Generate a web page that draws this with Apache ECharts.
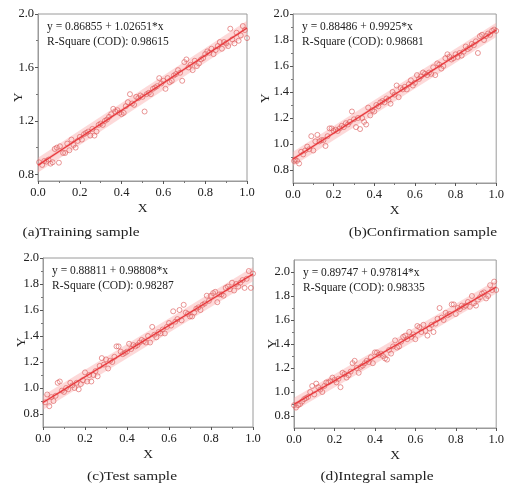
<!DOCTYPE html>
<html>
<head>
<meta charset="utf-8">
<script src="https://cdn.jsdelivr.net/npm/echarts@6/dist/echarts.min.js"></script>
<style>
  html, body { margin: 0; padding: 0; background: #ffffff; }
  #chart { width: 507px; height: 489px; }
</style>
</head>
<body>
<div id="chart"></div>
<script>
// ---- data -------------------------------------------------------------
const captions = ['(a)Training sample', '(b)Confirmation sample', '(c)Test sample', '(d)Integral sample'];
const intercepts = [0.86855, 0.88486, 0.88811, 0.89747];
const slopes = [1.02651, 0.9925, 0.98808, 0.97814];
const rSquares = ['0.98615', '0.98681', '0.98287', '0.98335'];

const yRanges = [[0.75, 2.0], [0.7, 2.0], [0.7, 2.0], [0.7, 2.1]];
const yLabelsWide = [0.8, 1.2, 1.6, 2.0];
const yMinorWide = [1.0, 1.4, 1.8];
const yLabelsFine = [0.8, 1.0, 1.2, 1.4, 1.6, 1.8, 2.0];
const yMinorFine = [0.9, 1.1, 1.3, 1.5, 1.7, 1.9];

// half-widths of the prediction and confidence bands
const predictionHalf = 0.055;
const confidenceHalf = 0.012;

const trainingPoints = [
  [0.005,0.89],[0.02,0.87],[0.03,0.90],[0.04,0.895],[0.05,0.91],[0.06,0.88],[0.07,0.89],[0.08,0.99],
  [0.09,1.00],[0.10,0.887],[0.105,1.01],[0.12,0.96],[0.13,0.96],[0.14,1.03],[0.15,0.98],[0.16,1.06],
  [0.17,1.02],[0.18,1.00],[0.19,1.05],[0.20,1.08],[0.21,1.06],[0.22,1.10],[0.23,1.11],[0.24,1.12],
  [0.25,1.09],[0.26,1.14],[0.27,1.09],[0.28,1.12],[0.29,1.17],[0.30,1.18],[0.31,1.17],[0.32,1.20],
  [0.33,1.21],[0.34,1.23],[0.35,1.25],[0.36,1.29],[0.37,1.27],[0.38,1.28],[0.39,1.26],[0.40,1.25],
  [0.41,1.26],[0.42,1.31],[0.43,1.34],[0.44,1.40],[0.45,1.33],[0.46,1.32],[0.47,1.38],[0.48,1.37],
  [0.49,1.39],[0.50,1.38],[0.51,1.27],[0.52,1.40],[0.53,1.41],[0.54,1.40],[0.55,1.44],[0.56,1.45],
  [0.57,1.46],[0.58,1.52],[0.59,1.48],[0.60,1.50],[0.61,1.44],[0.62,1.52],[0.63,1.49],[0.64,1.50],
  [0.65,1.54],[0.66,1.55],[0.67,1.58],[0.68,1.56],[0.69,1.50],[0.70,1.64],[0.71,1.66],[0.72,1.60],
  [0.73,1.62],[0.74,1.58],[0.75,1.65],[0.76,1.61],[0.77,1.63],[0.78,1.66],[0.79,1.67],[0.80,1.70],
  [0.81,1.72],[0.82,1.71],[0.83,1.74],[0.84,1.70],[0.85,1.73],[0.86,1.76],[0.87,1.79],[0.88,1.74],
  [0.89,1.79],[0.90,1.78],[0.91,1.76],[0.92,1.89],[0.93,1.81],[0.94,1.78],[0.95,1.86],[0.96,1.80],
  [0.97,1.84],[0.98,1.91],[0.99,1.88],[1.00,1.82]
];

const confirmationPoints = [
  [0.005,0.87],[0.01,0.88],[0.02,0.87],[0.03,0.85],[0.04,0.94],[0.05,0.92],[0.06,0.95],[0.07,0.98],
  [0.08,0.96],[0.09,1.06],[0.10,0.95],[0.11,1.02],[0.12,1.07],[0.13,1.02],[0.14,1.03],[0.15,1.03],
  [0.16,0.985],[0.17,1.06],[0.18,1.12],[0.19,1.12],[0.20,1.10],[0.21,1.11],[0.22,1.10],[0.23,1.12],
  [0.24,1.14],[0.25,1.13],[0.26,1.16],[0.27,1.15],[0.28,1.17],[0.29,1.25],[0.30,1.19],[0.31,1.13],
  [0.32,1.20],[0.33,1.115],[0.34,1.20],[0.35,1.17],[0.36,1.15],[0.37,1.28],[0.38,1.22],[0.39,1.26],
  [0.40,1.25],[0.41,1.30],[0.42,1.29],[0.43,1.32],[0.44,1.33],[0.45,1.32],[0.46,1.35],[0.47,1.34],
  [0.48,1.31],[0.49,1.40],[0.50,1.38],[0.51,1.45],[0.52,1.36],[0.53,1.43],[0.54,1.42],[0.55,1.44],
  [0.56,1.42],[0.57,1.46],[0.58,1.49],[0.59,1.45],[0.60,1.47],[0.61,1.53],[0.62,1.50],[0.63,1.52],
  [0.64,1.55],[0.65,1.54],[0.66,1.53],[0.67,1.55],[0.68,1.54],[0.69,1.59],[0.70,1.53],[0.71,1.62],
  [0.72,1.61],[0.73,1.58],[0.74,1.60],[0.75,1.66],[0.76,1.69],[0.77,1.67],[0.78,1.65],[0.79,1.66],
  [0.80,1.69],[0.81,1.67],[0.82,1.70],[0.83,1.68],[0.84,1.71],[0.85,1.75],[0.86,1.73],[0.87,1.74],
  [0.88,1.77],[0.89,1.76],[0.90,1.79],[0.91,1.70],[0.92,1.83],[0.93,1.84],[0.94,1.80],[0.95,1.83],
  [0.96,1.85],[0.97,1.84],[0.98,1.87],[0.99,1.88],[1.00,1.87]
];

const testPoints = [
  [0.01,0.89],[0.02,0.95],[0.03,0.86],[0.04,0.93],[0.05,0.90],[0.06,0.94],[0.07,1.04],[0.08,1.05],
  [0.09,0.98],[0.10,0.97],[0.11,1.00],[0.12,0.99],[0.13,1.04],[0.14,1.02],[0.15,1.00],[0.16,1.04],
  [0.17,0.99],[0.18,1.03],[0.19,1.06],[0.20,1.12],[0.21,1.05],[0.22,1.10],[0.23,1.05],[0.24,1.10],
  [0.25,1.13],[0.26,1.09],[0.27,1.17],[0.28,1.23],[0.29,1.18],[0.30,1.22],[0.31,1.15],[0.32,1.21],
  [0.33,1.20],[0.34,1.24],[0.35,1.32],[0.36,1.32],[0.37,1.28],[0.38,1.26],[0.39,1.27],[0.40,1.28],
  [0.41,1.34],[0.42,1.30],[0.43,1.33],[0.44,1.32],[0.45,1.33],[0.46,1.35],[0.47,1.37],[0.48,1.36],
  [0.49,1.35],[0.50,1.40],[0.51,1.35],[0.52,1.47],[0.53,1.41],[0.54,1.39],[0.55,1.43],[0.56,1.42],
  [0.57,1.45],[0.58,1.42],[0.59,1.47],[0.60,1.50],[0.61,1.48],[0.62,1.59],[0.63,1.51],[0.64,1.53],
  [0.65,1.60],[0.66,1.52],[0.67,1.64],[0.68,1.58],[0.69,1.57],[0.70,1.55],[0.71,1.55],[0.72,1.58],
  [0.73,1.61],[0.74,1.62],[0.75,1.60],[0.76,1.64],[0.77,1.65],[0.78,1.71],[0.79,1.67],[0.80,1.71],
  [0.81,1.73],[0.82,1.74],[0.83,1.66],[0.84,1.72],[0.85,1.72],[0.86,1.71],[0.87,1.77],[0.88,1.78],
  [0.89,1.76],[0.90,1.81],[0.91,1.75],[0.92,1.80],[0.93,1.78],[0.94,1.81],[0.95,1.83],[0.96,1.77],
  [0.97,1.84],[0.98,1.90],[0.99,1.77],[1.00,1.88]
];

const integralPoints = [
  [0.00,0.89],[0.01,0.87],[0.02,0.89],[0.03,0.90],[0.04,0.92],[0.05,0.94],[0.06,0.95],[0.07,0.96],
  [0.08,1.00],[0.09,1.05],[0.10,0.98],[0.11,1.07],[0.12,1.04],[0.13,1.02],[0.14,1.00],[0.15,1.05],
  [0.16,1.08],[0.17,1.08],[0.18,1.09],[0.19,1.12],[0.20,1.10],[0.21,1.08],[0.22,1.11],[0.23,1.04],
  [0.24,1.16],[0.25,1.15],[0.26,1.12],[0.27,1.14],[0.28,1.17],[0.29,1.24],[0.30,1.26],[0.31,1.20],
  [0.32,1.16],[0.33,1.21],[0.34,1.22],[0.35,1.24],[0.36,1.26],[0.37,1.25],[0.38,1.29],[0.39,1.24],
  [0.40,1.33],[0.41,1.33],[0.42,1.31],[0.43,1.32],[0.44,1.30],[0.45,1.28],[0.46,1.27],[0.47,1.35],
  [0.48,1.32],[0.49,1.38],[0.50,1.43],[0.51,1.37],[0.52,1.38],[0.53,1.42],[0.54,1.46],[0.55,1.47],
  [0.56,1.44],[0.57,1.50],[0.58,1.46],[0.59,1.48],[0.60,1.44],[0.61,1.55],[0.62,1.54],[0.63,1.50],
  [0.64,1.56],[0.65,1.51],[0.66,1.47],[0.67,1.53],[0.68,1.56],[0.69,1.50],[0.70,1.57],[0.71,1.61],
  [0.72,1.70],[0.73,1.62],[0.74,1.60],[0.75,1.66],[0.76,1.64],[0.77,1.65],[0.78,1.73],[0.79,1.73],
  [0.80,1.65],[0.81,1.70],[0.82,1.69],[0.83,1.72],[0.84,1.71],[0.85,1.72],[0.86,1.75],[0.87,1.71],
  [0.88,1.80],[0.89,1.74],[0.90,1.72],[0.91,1.77],[0.92,1.79],[0.93,1.82],[0.94,1.83],[0.95,1.78],
  [0.96,1.80],[0.97,1.89],[0.98,1.85],[0.99,1.92],[1.00,1.85]
];

const pointSets = [trainingPoints, confirmationPoints, testPoints, integralPoints];

// ---- layout & style ---------------------------------------------------
const FONT = "'Liberation Serif', 'Times New Roman', serif";
const grids = [
  { left: 38, top: 14, width: 209, height: 167 },
  { left: 293, top: 14, width: 209, height: 169 },
  { left: 43, top: 258, width: 210, height: 169 },
  { left: 294, top: 260, width: 208, height: 168 }
];
const captionPos = [[81, 232], [423, 232], [132, 476], [377, 476]];
const yNameGaps = [13, 21, 15, 15];
const AXIS_GREY = '#9a9a9a';
const LINE_RED = '#e8363a';
const POINT_RED = '#dc5a5a';

const chart = echarts.init(document.getElementById('chart'), null, { renderer: 'canvas' });

const xAxes = [], yAxes = [], series = [], graphics = [];

grids.forEach((g, i) => {
  const [ymin, ymax] = yRanges[i];
  const labels = i === 0 ? yLabelsWide : yLabelsFine;
  const minors = i === 0 ? yMinorWide : yMinorFine;
  const b = intercepts[i], m = slopes[i];

  xAxes.push({
    type: 'value', gridIndex: i, min: 0, max: 1, interval: 0.2,
    name: 'X', nameLocation: 'middle', nameGap: 20,
    nameTextStyle: { fontFamily: FONT, fontSize: 13.5, color: '#222' },
    axisLine: { show: true, lineStyle: { color: AXIS_GREY, width: 1 } },
    axisTick: { show: true, inside: false, length: 3, lineStyle: { color: '#555' } },
    minorTick: { show: true, splitNumber: 2, length: 2, lineStyle: { color: '#777' } },
    splitLine: { show: false },
    axisLabel: {
      fontFamily: FONT, fontSize: 12.5, color: '#222', margin: 5,
      formatter: v => v.toFixed(1), showMinLabel: true, showMaxLabel: true
    }
  });
  // labelled ticks
  yAxes.push({
    type: 'value', gridIndex: i, min: ymin, max: ymax,
    name: 'Y', nameLocation: 'middle', nameGap: yNameGaps[i], nameRotate: 90,
    nameMoveOverlap: false,
    nameTextStyle: { fontFamily: FONT, fontSize: 13.5, color: '#222' },
    axisLine: { show: true, lineStyle: { color: AXIS_GREY, width: 1 } },
    axisTick: { show: true, length: 3, customValues: labels, lineStyle: { color: '#555' } },
    splitLine: { show: false },
    axisLabel: {
      fontFamily: FONT, fontSize: 12.5, color: '#222', margin: 4,
      customValues: labels, formatter: v => v.toFixed(1)
    }
  });
  // minor ticks between labelled values
  yAxes.push({
    type: 'value', gridIndex: i, min: ymin, max: ymax, position: 'left',
    axisLine: { show: false },
    axisTick: { show: true, length: 2, customValues: minors, lineStyle: { color: '#777' } },
    axisLabel: { show: false },
    splitLine: { show: false }
  });

  const yIdxMajor = i * 2;

  // prediction and confidence bands around the fitted line
  [[predictionHalf, 'rgba(250, 165, 165, 0.42)'], [confidenceHalf, 'rgba(240, 110, 110, 0.35)']].forEach(([h, fill]) => {
    series.push({
      type: 'custom', xAxisIndex: i, yAxisIndex: yIdxMajor, silent: true, z: 1,
      data: [[0, b - h, b + h, 1, b + m - h, b + m + h]],
      renderItem: (params, api) => {
        const x0 = api.value(0), lo0 = api.value(1), hi0 = api.value(2);
        const x1 = api.value(3), lo1 = api.value(4), hi1 = api.value(5);
        return {
          type: 'polygon',
          shape: { points: [api.coord([x0, lo0]), api.coord([x1, lo1]), api.coord([x1, hi1]), api.coord([x0, hi0])] },
          style: { fill: fill }
        };
      },
      clip: true
    });
  });

  series.push({
    type: 'scatter', xAxisIndex: i, yAxisIndex: yIdxMajor, z: 3,
    symbol: 'circle', symbolSize: 5,
    itemStyle: { color: 'rgba(255,255,255,0)', borderColor: POINT_RED, borderWidth: 0.8 },
    data: pointSets[i]
  });

  series.push({
    type: 'line', xAxisIndex: i, yAxisIndex: yIdxMajor, z: 4,
    showSymbol: false, silent: true,
    lineStyle: { color: LINE_RED, width: 1.2 },
    data: [[0, b], [1, b + m]]
  });

  graphics.push({
    type: 'text', left: g.left + 9, top: g.top + 5,
    style: {
      text: 'y = ' + String(b) + ' + ' + String(m) + '*x\nR-Square (COD): ' + rSquares[i],
      font: '11.5px ' + FONT, fill: '#222', lineHeight: 15
    }
  });
  graphics.push({
    type: 'text', x: captionPos[i][0], y: captionPos[i][1], scaleX: 1.14,
    style: {
      text: captions[i], font: '13.5px ' + FONT, fill: '#222',
      align: 'center', verticalAlign: 'middle'
    }
  });
});

chart.setOption({
  backgroundColor: '#ffffff',
  animation: false,
  grid: grids.map(g => Object.assign({ show: true, borderColor: AXIS_GREY, borderWidth: 1, containLabel: false }, g)),
  xAxis: xAxes,
  yAxis: yAxes,
  series: series,
  graphic: graphics
});
</script>
</body>
</html>
